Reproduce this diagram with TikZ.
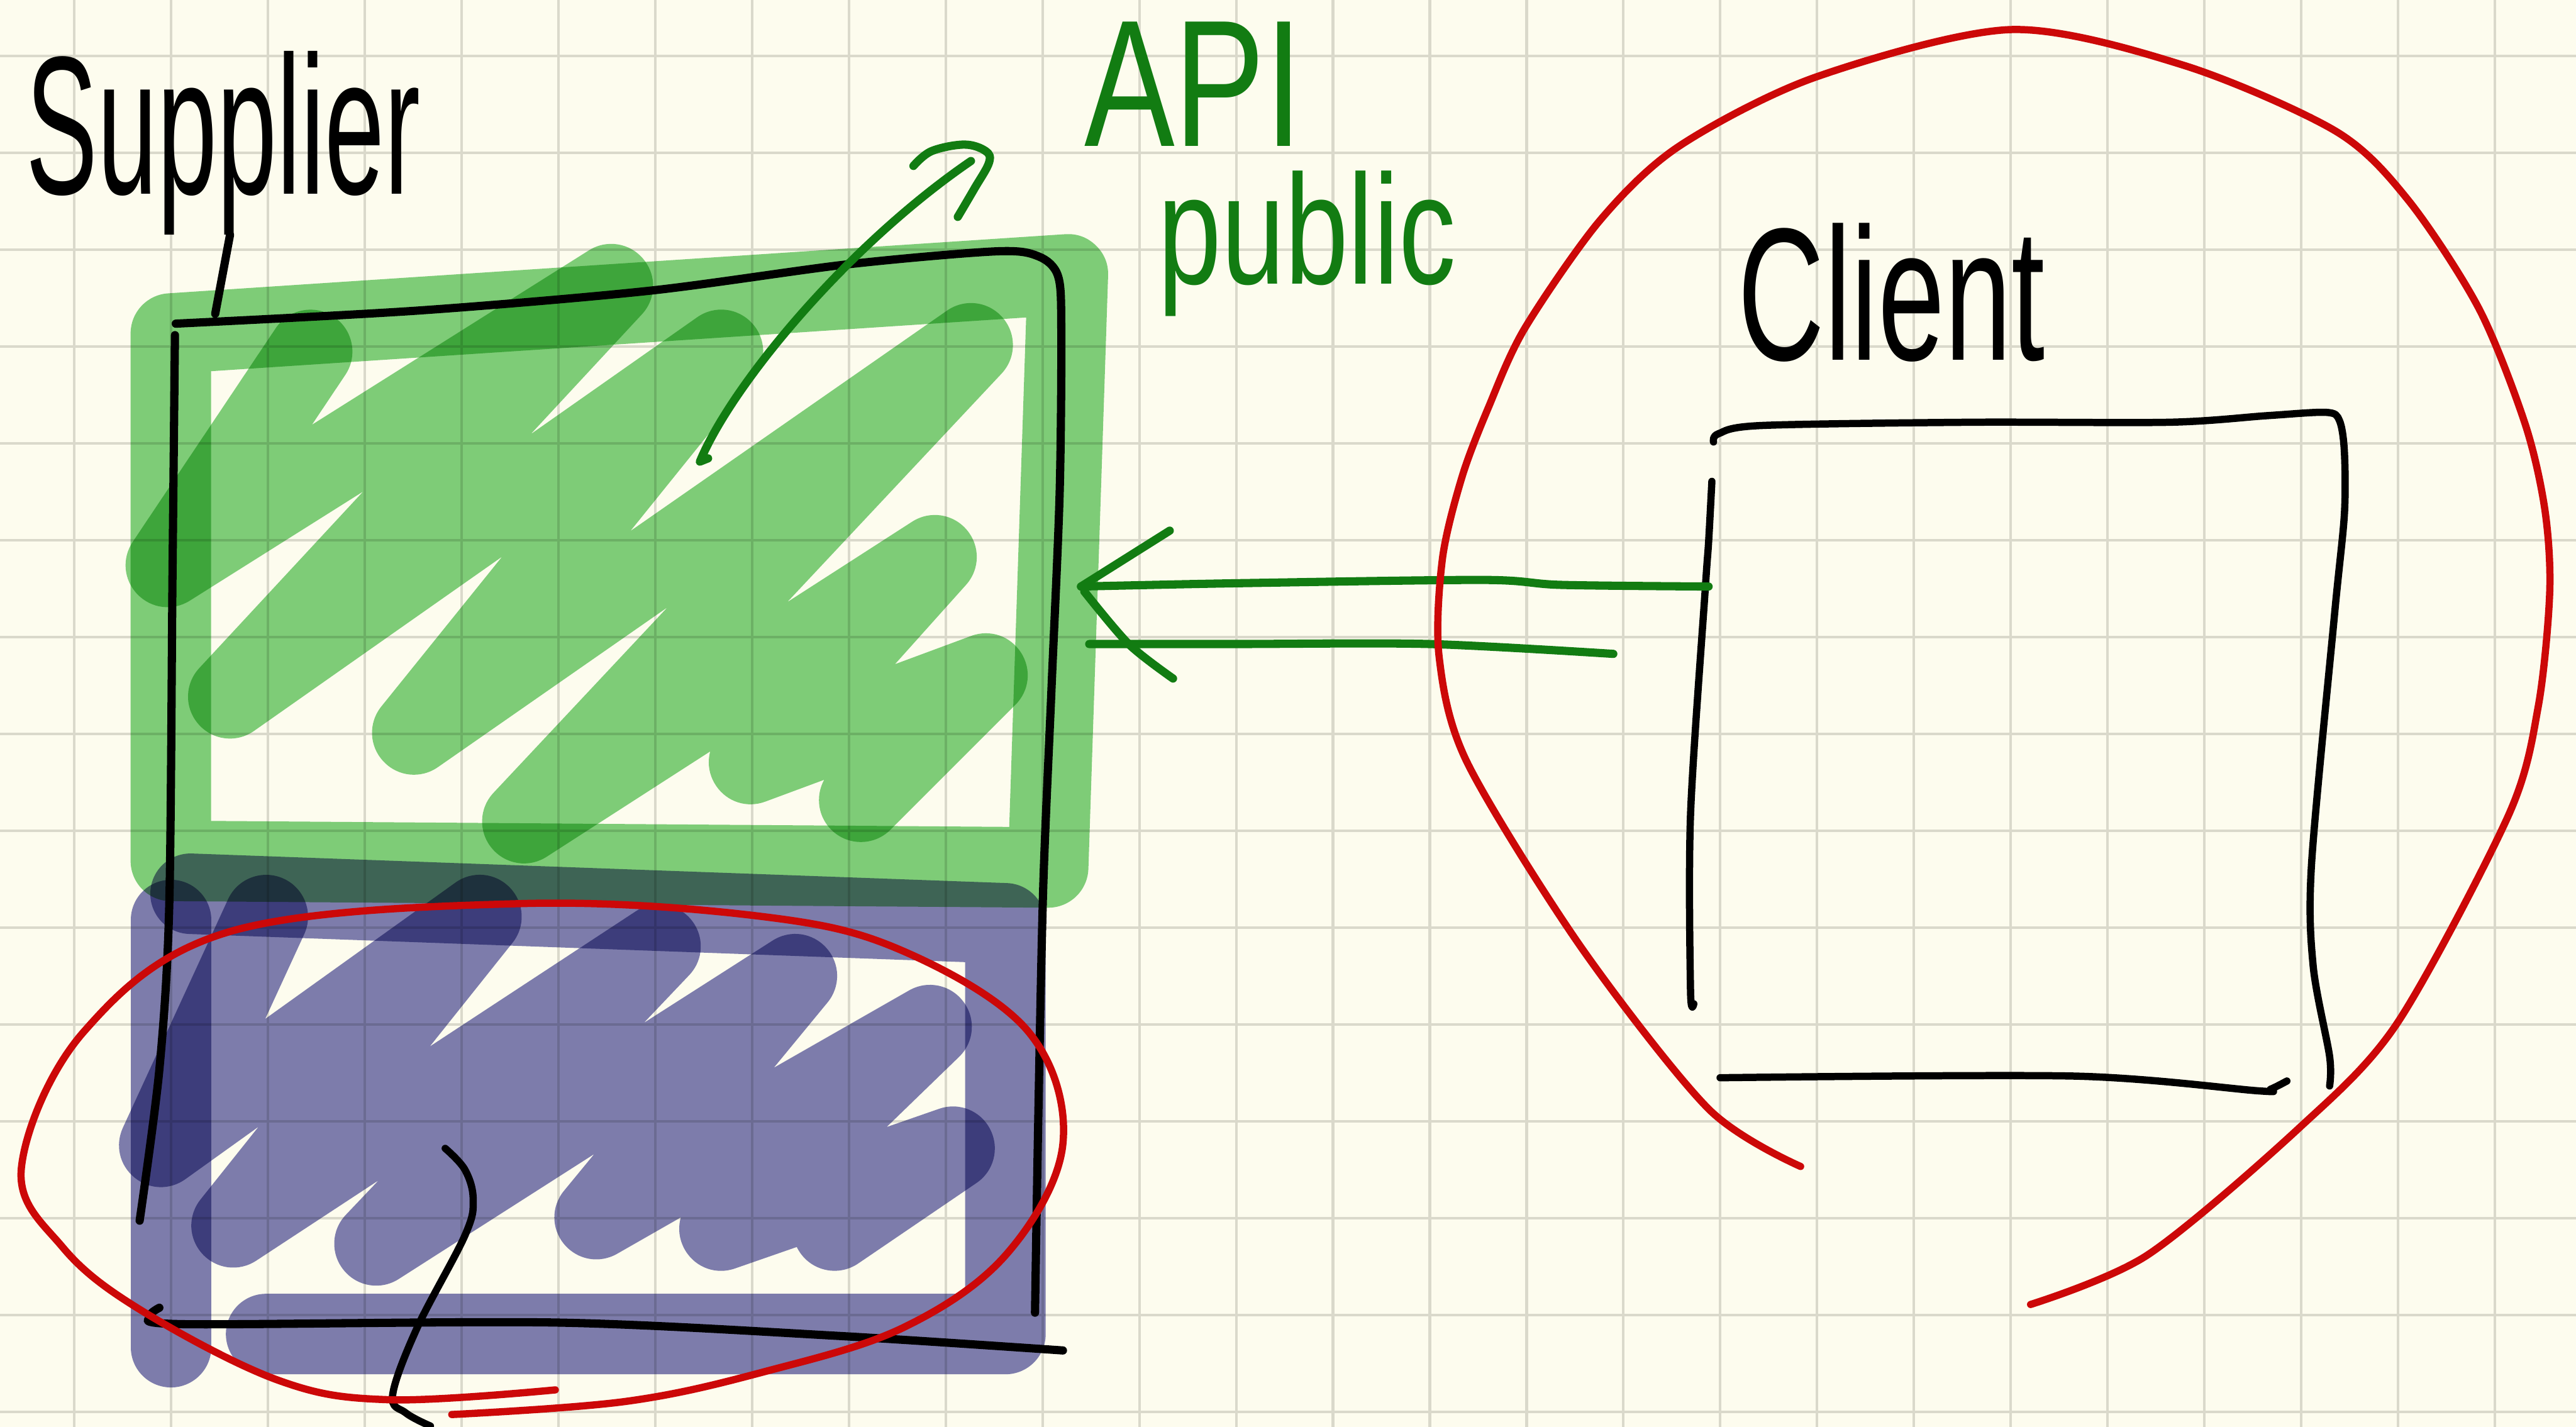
\documentclass[tikz,border=0pt]{standalone}
\usepackage{fontspec}
\usepackage{graphicx}
\setmainfont{Liberation Sans}
\definecolor{paper}{RGB}{253,252,238}
\definecolor{gridc}{RGB}{218,217,203}
\definecolor{hlgreen}{RGB}{127,207,128}
\definecolor{hlpurple}{RGB}{126,126,184}
\definecolor{inkgreen}{RGB}{18,124,18}
\definecolor{inkred}{RGB}{204,8,8}
\tikzset{
  ink/.style={line width=5pt, line cap=round, line join=round},
  thinink/.style={line width=4.4pt, line cap=round, line join=round},
  redink/.style={line width=4.4pt, line cap=round, line join=round, draw=inkred},
  hl/.style={line width=49pt, line cap=round, line join=round},
  scrib/.style={line width=51pt, line cap=round, line join=round},
  txt/.style={inner sep=0pt, outer sep=0pt},
  gridline/.style={draw=gridc, line width=1.6pt}
}
\begin{document}
\begin{tikzpicture}[x=1pt,y=-1pt]
\useasboundingbox (0,0) rectangle (1568,868.4);
\fill[paper] (0,0) rectangle (1568,868.4);
\foreach \k in {0,...,25} \draw[gridline] ({45.3+58.93*\k},0) -- ({45.3+58.93*\k},868.4);
\foreach \k in {0,...,14} \draw[gridline] (0,{34.1+58.95*\k}) -- (1568,{34.1+58.95*\k});

% highlighter fills
\begin{scope}[blend mode=multiply]
  \draw[hl, hlgreen] (104,203) -- (650,167) -- (638,528) -- (104,524) -- cycle;
  \draw[scrib, hlgreen] (189,214) -- (102,344) -- (372,174) -- (140,424) -- (439,214) -- (252,446) -- (591,210) -- (319,500) -- (569,339) -- (457,464) -- (600,411) -- (524,487);
  \draw[hl, hlpurple] (104,560) -- (104,820);
  \draw[hl, hlpurple] (116,544) -- (612,562) -- (612,812) -- (162,812);
  \draw[scrib, hlpurple] (162,558) -- (98,697) -- (292,558) -- (142,746) -- (401,576) -- (229,757) -- (484,594) -- (363,741) -- (566,625) -- (439,748) -- (580,699) -- (508,748);
\end{scope}

% supplier box
\draw[ink] plot[smooth, tension=0.5] coordinates {(107,197) (255,189) (395,177) (515,161) (606,153) (632,156) (644,168) (646,200) (645,300) (640,420) (635,540) (632,680) (630,799)};
\draw[ink] plot[smooth, tension=0.5] coordinates {(106.5,204) (105,350) (103,552) (97,651) (85,743)};
\draw[ink] plot[smooth, tension=0.5] coordinates {(97,796) (92,801) (112,806) (338,805) (508,813) (647,822)};

% labels
\node[txt, anchor=base west] (supplier) at (16,118) {\fontsize{120}{120}\selectfont\scalebox{0.545}[1]{Supplier}};
\node[txt, anchor=base west, text=inkgreen] (api) at (660,89) {\fontsize{110}{110}\selectfont\scalebox{0.75}[1]{API}};
\node[txt, anchor=base west, text=inkgreen] (public) at (705,173) {\fontsize{95}{95}\selectfont\scalebox{0.73}[1]{public}};
\node[txt, anchor=base west] (client) at (1058,219) {\fontsize{115}{115}\selectfont\scalebox{0.635}[1]{Client}};

% supplier label tick
\coordinate (supStem) at (140,143);
\coordinate (supBox) at (131,191);
\draw[ink] (supStem) -- (supBox);

% API pointer
\coordinate (apiTail) at (426,281);
\coordinate (apiTip) at (591,98);
\draw[ink, inkgreen] (431,279) -- (apiTail) .. controls (445,235) and (515,150) .. (apiTip);
\draw[ink, inkgreen] plot[smooth, tension=0.6] coordinates {(556,101) (567,92) (587,88) (600,92) (602,99) (593,115) (583,132)};

% client box
\draw[thinink] plot[smooth, tension=0.5] coordinates {(1043,269) (1046,264) (1072,259) (1200,257) (1321,257) (1380,253) (1416,251) (1424,256) (1427,275) (1427,313) (1421,374) (1407,526) (1408,588) (1418,643) (1418,661)};
\draw[thinink] plot[smooth, tension=0.5] coordinates {(1042,293) (1040,330) (1038,358) (1029,496) (1029,603) (1031,611)};
\draw[thinink] plot[smooth, tension=0.5] coordinates {(1047,656) (1263,655) (1375,664) (1382,663) (1392,658)};

% green double arrow client -> supplier
\coordinate (clientIn) at (1040,357);
\coordinate (supplierIn) at (658,357);
\coordinate (clientOut) at (982,398);
\coordinate (supplierOut) at (663,392);
\draw[ink, inkgreen] plot[smooth, tension=0.5] coordinates {(clientIn) (950,356) (903,353) (753,355) (supplierIn)};
\draw[ink, inkgreen] (712,323) -- (supplierIn);
\draw[ink, inkgreen] plot[smooth, tension=0.5] coordinates {(660,360) (687,392) (714,413)};
\draw[ink, inkgreen] plot[smooth, tension=0.5] coordinates {(supplierOut) (753,392) (870,392) (clientOut)};

% black stroke in lower area
\draw[thinink] plot[smooth, tension=0.6] coordinates {(271,699) (283,712) (288,730) (283,752) (254,808) (239,849) (247,860) (262,868)};

% red loops
\draw[redink] plot[smooth, tension=0.6] coordinates {(338,846) (237,852) (169,840) (85,797) (38,759) (13,711) (51,628) (140,567) (317,550) (465,558) (550,579) (626,628) (647,696) (613,763) (550,808) (465,835) (381,853) (275,861)};
\draw[redink] plot[smooth, tension=0.5] coordinates {(1096,710) (1040,675) (962,576) (893,464) (876,400) (878,340) (890,290) (906,248) (928,200) (974,134) (1022,89) (1105,47) (1224,18) (1330,40) (1422,80) (1466,122) (1509,188) (1537,258) (1549,310) (1552,360) (1545,430) (1527,496) (1459,623) (1399,687) (1307,764) (1236,794)};
\end{tikzpicture}
\end{document}
